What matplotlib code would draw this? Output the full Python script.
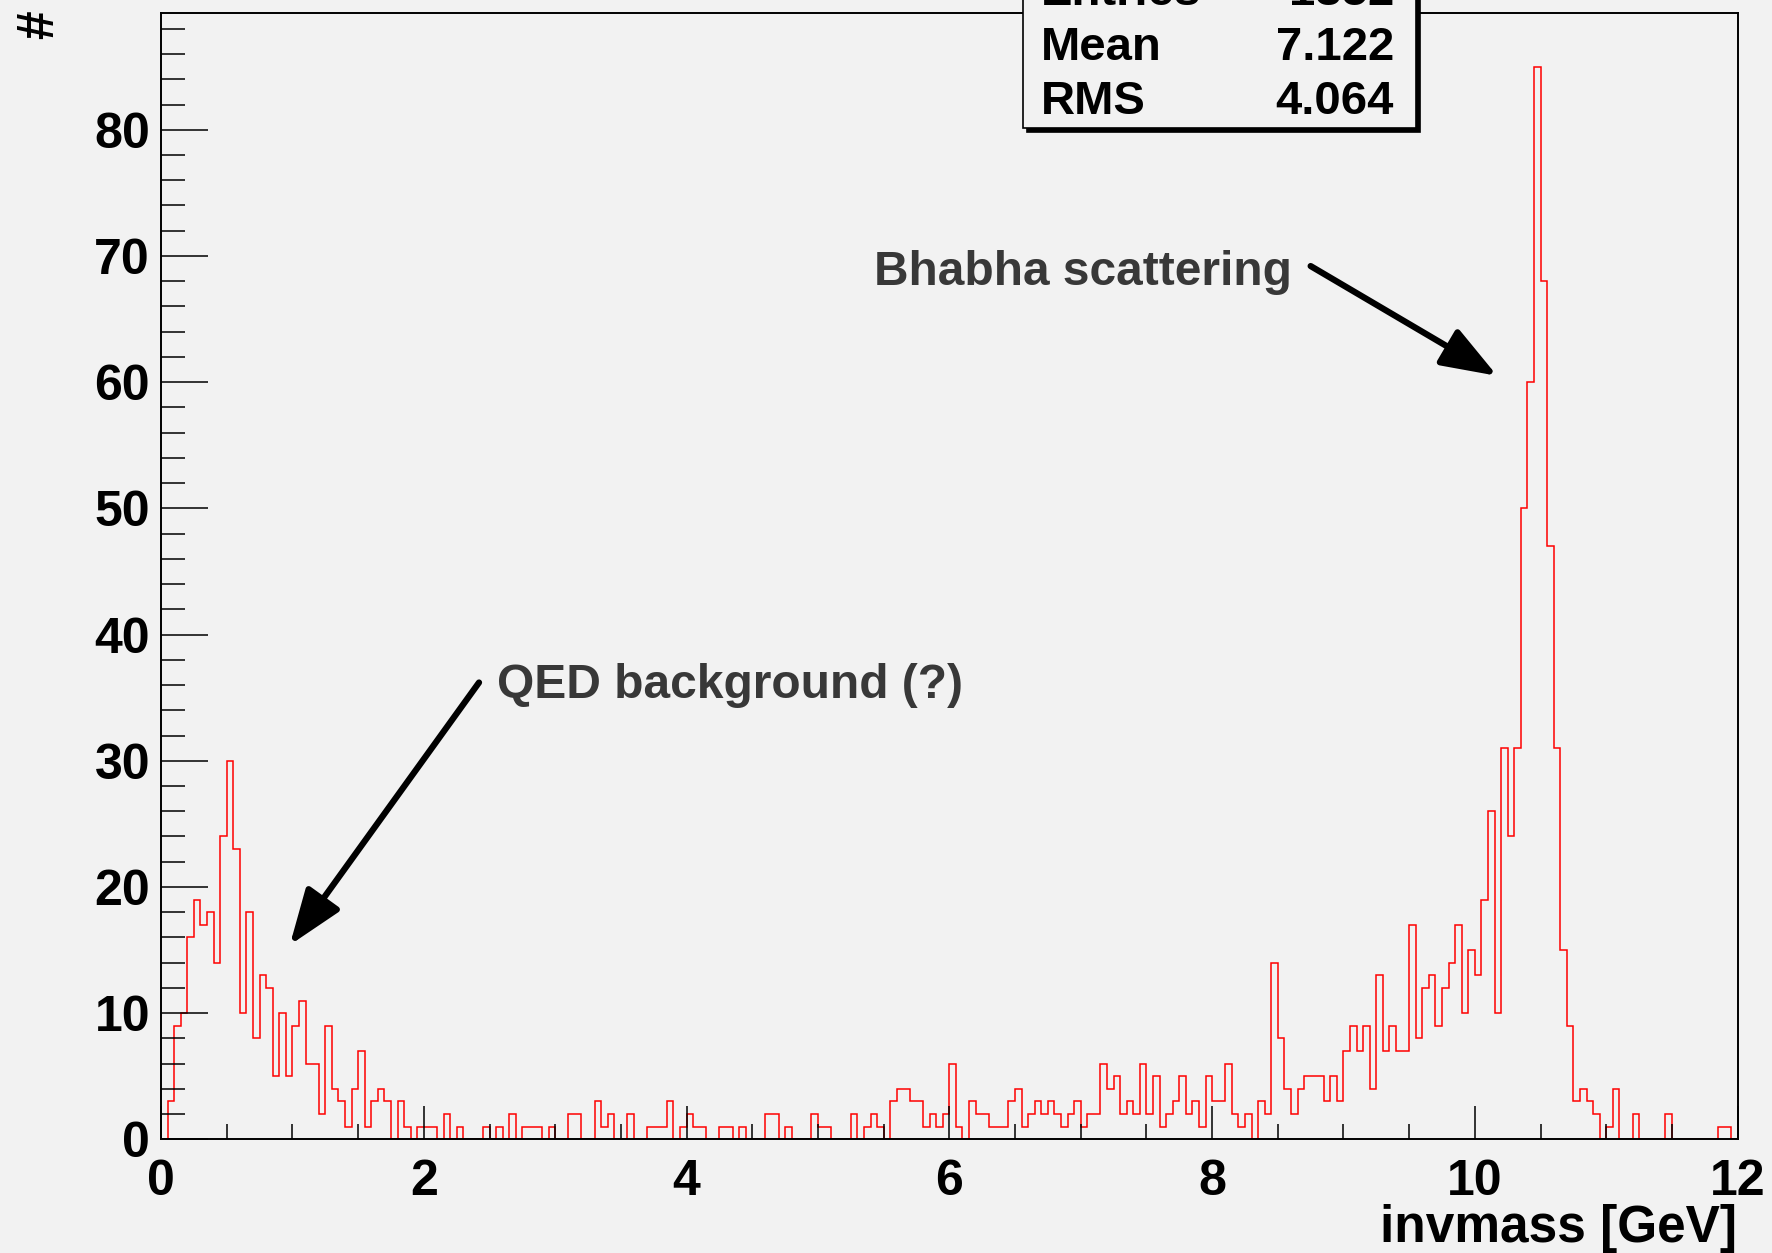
import numpy as np
import matplotlib
matplotlib.use("Agg")
import matplotlib.pyplot as plt
from matplotlib.patches import Rectangle

# Histogram of the invariant mass, 240 bins between 0 and 12 GeV
x_min, x_max, n_bins = 0.0, 12.0, 240
counts = [
    0, 3, 9, 10, 16, 19, 17, 18, 14, 24, 30, 23, 10, 18, 8, 13, 12, 5, 10, 5,
    9, 11, 6, 6, 2, 9, 4, 3, 1, 4, 7, 1, 3, 4, 3, 0, 3, 1, 0, 1,
    1, 1, 0, 2, 0, 1, 0, 0, 0, 1, 0, 1, 0, 2, 0, 1, 1, 1, 0, 1,
    0, 0, 2, 2, 0, 0, 3, 1, 2, 0, 0, 2, 0, 0, 1, 1, 1, 3, 0, 1,
    2, 1, 1, 0, 0, 1, 1, 0, 1, 0, 0, 0, 2, 2, 0, 1, 0, 0, 0, 2,
    1, 1, 0, 0, 0, 2, 0, 1, 2, 1, 0, 3, 4, 4, 3, 3, 1, 2, 1, 2,
    6, 1, 0, 3, 2, 2, 1, 1, 1, 3, 4, 1, 2, 3, 2, 3, 2, 1, 2, 3,
    1, 2, 2, 6, 4, 5, 2, 3, 2, 6, 2, 5, 1, 2, 3, 5, 2, 3, 1, 5,
    3, 3, 6, 2, 1, 2, 0, 3, 2, 14, 8, 4, 2, 4, 5, 5, 5, 3, 5, 3,
    7, 9, 7, 9, 4, 13, 7, 9, 7, 7, 17, 8, 12, 13, 9, 12, 14, 17, 10, 15,
    13, 19, 26, 10, 31, 24, 31, 50, 60, 85, 68, 47, 31, 15, 9, 3, 4, 3, 2, 0,
    1, 4, 0, 0, 2, 0, 0, 0, 0, 2, 0, 0, 0, 0, 0, 0, 0, 1, 1, 0,
]

# Statistics box rows
stat_names = ["Entries", "Mean", "RMS"]
stat_values = [str(int(sum(counts))), "7.122", "4.064"]

# Annotations: text, text anchor (x, y), arrow tail (x, y), arrow tip (x, y), alignment
notes = [
    ("Bhabha scattering", (8.61, 68.7), (8.75, 69.2), (10.17, 60.5), "right"),
    ("QED background (?)", (2.56, 36.0), (2.42, 36.2), (0.98, 15.4), "left"),
]

bg = "#f2f2f2"
plt.rcParams["font.family"] = ["Liberation Sans", "DejaVu Sans"]
plt.rcParams["font.weight"] = "bold"

fig = plt.figure(figsize=(17.72, 12.53), dpi=100, facecolor=bg)
ax = fig.add_axes([0.0909, 0.0907, 0.8897, 0.8989], facecolor=bg)

edges = np.linspace(x_min, x_max, n_bins + 1)
ax.stairs(counts, edges, color="red", lw=1.1, baseline=0)

ax.set_xlim(x_min, x_max)
ax.set_ylim(0, max(counts) * 1.05)

for s in ax.spines.values():
    s.set_linewidth(1.4)
    s.set_color("black")

ax.set_xticks(np.arange(0, 12.01, 2))
ax.set_xticks(np.arange(0, 12.01, 0.5), minor=True)
ax.set_yticks(np.arange(0, 81, 10))
ax.set_yticks(np.arange(0, 89, 2), minor=True)

ax.tick_params(axis="x", which="major", direction="in", length=24, width=1.1,
               labelsize=36, pad=14)
ax.tick_params(axis="x", which="minor", direction="in", length=11, width=1.1)
ax.tick_params(axis="y", which="major", direction="in", length=34, width=1.1,
               labelsize=36, pad=8)
ax.tick_params(axis="y", which="minor", direction="in", length=17, width=1.1)
for lab in ax.get_xticklabels() + ax.get_yticklabels():
    lab.set_fontweight("bold")

W, H = 1772, 1253

# Axis titles
fig.text(1737 / W, 1 - 1242 / H, "invmass [GeV]", fontsize=37, fontweight="bold",
         ha="right", va="baseline")
fig.text(0.0085, 0.992, "#", rotation=90, fontsize=37, fontweight="bold",
         ha="left", va="top")

# Arrows with labels
for text, txy, tail, tip, ha in notes:
    ax.annotate("", xy=tip, xytext=tail,
                arrowprops=dict(arrowstyle="-|>,head_length=3.4,head_width=1.25",
                                color="black", lw=4.5, shrinkA=0, shrinkB=0))
    ax.text(txy[0], txy[1], text, fontsize=34.5, fontweight="bold",
            color="#383838", ha=ha, va="center")

# Statistics box, its top row runs past the top of the canvas
bx0, bx1, by0, by1 = 1023, 1416, 128, -60
fig.patches.append(Rectangle(((bx0 + 4) / W, 1 - (by0 + 4) / H),
                             (bx1 - bx0) / W, (by0 - by1) / H,
                             transform=fig.transFigure, facecolor="black",
                             edgecolor="black", lw=1.2))
fig.patches.append(Rectangle((bx0 / W, 1 - by0 / H), (bx1 - bx0) / W, (by0 - by1) / H,
                             transform=fig.transFigure, facecolor=bg,
                             edgecolor="black", lw=1.2))
row_base = [5, 60, 114]
for name, val, yb in zip(stat_names, stat_values, row_base):
    fig.text(1041 / W, 1 - yb / H, name, fontsize=34, fontweight="bold",
             ha="left", va="baseline")
    fig.text(1394 / W, 1 - yb / H, val, fontsize=34, fontweight="bold",
             ha="right", va="baseline")

fig.savefig("out.png", dpi=100, facecolor=bg)
